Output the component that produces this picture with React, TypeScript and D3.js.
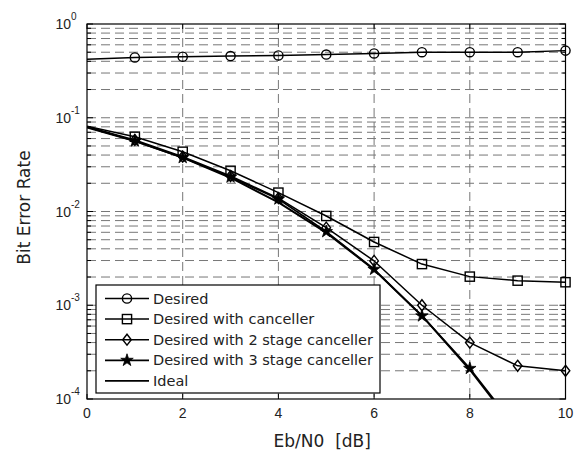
import React from 'react';
import * as d3 from 'd3';

const ebn0 = [0, 1, 2, 3, 4, 5, 6, 7, 8, 9, 10];
const desired = [0.42, 0.44, 0.448, 0.455, 0.462, 0.472, 0.485, 0.5, 0.5, 0.5, 0.52];
const withCanceller = [0.081, 0.0628, 0.0434, 0.0272, 0.0159, 0.00896, 0.00473, 0.00275, 0.00202, 0.00183, 0.00176];
const with2Stage = [0.08, 0.058, 0.0384, 0.0239, 0.0139, 0.00672, 0.00297, 0.001, 0.0004, 0.000226, 0.0002];
const with3Stage = [0.08, 0.0565, 0.0376, 0.0233, 0.0136, 0.0061, 0.00242, 0.00077, 0.000212, 0.000047];
const ideal = [0.0786, 0.0563, 0.0375, 0.0229, 0.0125, 0.00595, 0.00239, 0.000773, 0.000205, 0.000045];

const xTicks = [0, 2, 4, 6, 8, 10];
const yDecades = [1, 0.1, 0.01, 0.001, 0.0001];
const yExponents = ['0', '-1', '-2', '-3', '-4'];
const legendLabels = [
  'Desired',
  'Desired with canceller',
  'Desired with 2 stage canceller',
  'Desired with 3 stage canceller',
  'Ideal',
];

const W = 582;
const H = 453;
const M = { left: 87, right: 565.5, top: 24, bottom: 399 };

type MarkerKind = 'circle' | 'square' | 'diamond' | 'star' | 'none';

function Marker({ kind, x, y }: { kind: MarkerKind; x: number; y: number }) {
  if (kind === 'circle') return <circle cx={x} cy={y} r={4.6} fill="none" stroke="#000" strokeWidth={1.4} />;
  if (kind === 'square') return <rect x={x - 4.6} y={y - 4.6} width={9.2} height={9.2} fill="none" stroke="#000" strokeWidth={1.4} />;
  if (kind === 'diamond')
    return (
      <path
        d={`M${x},${y - 5.5}L${x + 4.3},${y}L${x},${y + 5.5}L${x - 4.3},${y}Z`}
        fill="none"
        stroke="#000"
        strokeWidth={1.4}
      />
    );
  if (kind === 'star') {
    const sym = d3.symbol(d3.symbolStar, 48)();
    return <path d={sym || ''} transform={`translate(${x},${y})`} fill="#000" stroke="#000" strokeWidth={0.8} />;
  }
  return null;
}

export default function App() {
  const x = d3.scaleLinear().domain([0, 10]).range([M.left, M.right]);
  const y = d3.scaleLog().domain([1e-4, 1]).range([M.bottom, M.top]);

  const series: { values: number[]; kind: MarkerKind; width: number }[] = [
    { values: desired, kind: 'circle', width: 1.5 },
    { values: withCanceller, kind: 'square', width: 1.5 },
    { values: with2Stage, kind: 'diamond', width: 1.5 },
    { values: with3Stage, kind: 'star', width: 1.7 },
    { values: ideal, kind: 'none', width: 1.9 },
  ];

  const line = d3
    .line<[number, number]>()
    .x((d) => x(d[0]))
    .y((d) => y(d[1]));

  const minor: number[] = [];
  for (let e = -4; e < 0; e++) {
    for (let k = 2; k <= 9; k++) minor.push(k * Math.pow(10, e));
  }

  const grid = '#777';
  const dash = '9,5';

  const legend = { x: 96, y: 285, w: 284, h: 108, row: 20.6 };
  const labelFont = "'DejaVu Sans', sans-serif";

  return (
    <svg
      width={W}
      height={H}
      style={{ position: 'absolute', left: 0, top: 0, background: '#fff' }}
      fontFamily="'Liberation Sans', Arial, sans-serif"
    >
      <rect x={0} y={0} width={W} height={H} fill="#fff" />
      <defs>
        <clipPath id="plotclip">
          <rect x={M.left} y={M.top} width={M.right - M.left} height={M.bottom - M.top} />
        </clipPath>
      </defs>

      {/* grid */}
      <g stroke={grid} strokeWidth={1} strokeDasharray={dash}>
        {minor.map((v, i) => (
          <line key={'m' + i} x1={M.left} x2={M.right} y1={y(v)} y2={y(v)} />
        ))}
        {yDecades.slice(1, 4).map((v, i) => (
          <line key={'d' + i} x1={M.left} x2={M.right} y1={y(v)} y2={y(v)} />
        ))}
        {xTicks.slice(1, 5).map((t) => (
          <line key={'x' + t} x1={x(t)} x2={x(t)} y1={M.top} y2={M.bottom} />
        ))}
      </g>

      {/* ticks */}
      <g stroke="#000" strokeWidth={1}>
        {xTicks.map((t) => (
          <g key={'xt' + t}>
            <line x1={x(t)} x2={x(t)} y1={M.bottom} y2={M.bottom - 5} />
            <line x1={x(t)} x2={x(t)} y1={M.top} y2={M.top + 5} />
          </g>
        ))}
        {yDecades.map((v, i) => (
          <g key={'yt' + i}>
            <line x1={M.left} x2={M.left + 6} y1={y(v)} y2={y(v)} />
            <line x1={M.right} x2={M.right - 6} y1={y(v)} y2={y(v)} />
          </g>
        ))}
        {minor.map((v, i) => (
          <g key={'ym' + i}>
            <line x1={M.left} x2={M.left + 4} y1={y(v)} y2={y(v)} />
            <line x1={M.right} x2={M.right - 4} y1={y(v)} y2={y(v)} />
          </g>
        ))}
      </g>

      {/* series */}
      <g clipPath="url(#plotclip)">
        {series.map((s, i) => (
          <path
            key={'s' + i}
            d={line(s.values.map((v, j) => [ebn0[j], v] as [number, number])) || ''}
            fill="none"
            stroke="#000"
            strokeWidth={s.width}
            strokeLinejoin="round"
          />
        ))}
      </g>
      {series.map((s, i) =>
        s.values.map((v, j) =>
          j >= 1 && v >= 1e-4 ? <Marker key={`mk${i}-${j}`} kind={s.kind} x={x(ebn0[j])} y={y(v)} /> : null
        )
      )}

      {/* axes box */}
      <rect
        x={M.left}
        y={M.top}
        width={M.right - M.left}
        height={M.bottom - M.top}
        fill="none"
        stroke="#000"
        strokeWidth={1.2}
      />

      {/* tick labels */}
      <g fontSize={14} fill="#222">
        {xTicks.map((t) => (
          <text key={'xl' + t} x={x(t)} y={M.bottom + 19} textAnchor="middle">
            {t}
          </text>
        ))}
        {yDecades.map((v, i) => (
          <text key={'yl' + i} x={M.left - 16} y={y(v) + 5} textAnchor="end">
            10
          </text>
        ))}
        {yDecades.map((v, i) => (
          <text key={'ye' + i} x={M.left - 16} y={y(v) - 4} fontSize={10} textAnchor="start">
            {yExponents[i]}
          </text>
        ))}
      </g>

      {/* axis labels */}
      <text
        x={(M.left + M.right) / 2 - 4}
        y={447}
        textAnchor="middle"
        fontSize={17}
        fill="#222"
        fontFamily={labelFont}
        style={{ whiteSpace: 'pre' }}
      >
        {'Eb/N0  [dB]'}
      </text>
      <text
        transform={`translate(30,${(M.top + M.bottom) / 2 - 4}) rotate(-90)`}
        textAnchor="middle"
        fontSize={17}
        fill="#222"
        fontFamily={labelFont}
      >
        Bit Error Rate
      </text>

      {/* legend */}
      <rect x={legend.x} y={legend.y} width={legend.w} height={legend.h} fill="#fff" stroke="#000" strokeWidth={1.2} />
      {legendLabels.map((lab, i) => {
        const ly = legend.y + 13.5 + i * legend.row;
        return (
          <g key={'lg' + i}>
            <line x1={105} x2={149} y1={ly} y2={ly} stroke="#000" strokeWidth={series[i].width} />
            <Marker kind={series[i].kind} x={127} y={ly} />
            <text x={153} y={ly + 5} fontSize={14.5} fill="#222" fontFamily={labelFont}>
              {lab}
            </text>
          </g>
        );
      })}
    </svg>
  );
}
